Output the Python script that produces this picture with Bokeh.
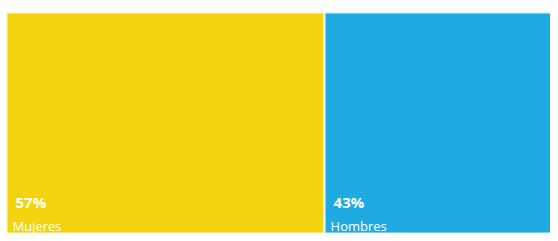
from bokeh.plotting import figure
from bokeh.models import ColumnDataSource, Range1d
from bokeh.core.properties import value
from bokeh.embed import file_html
from bokeh.resources import INLINE

categories = ["Mujeres", "Hombres"]
shares = [57, 43]
pct_labels = ["57%", "43%"]
colors = ["#F2D40E", "#1FAAE2"]

lefts, rights = [], []
acc = 0
for s in shares:
    lefts.append(acc)
    acc += s
    rights.append(acc)

src = ColumnDataSource(dict(
    left=lefts, right=rights, bottom=[0] * len(shares), top=[1] * len(shares),
    color=colors, cat=categories, pct=pct_labels,
))

W, H = 550, 233
ML, MT = 6, 12
# the treemap continues slightly past the right edge of the picture
x_end = acc * (W - ML) / (W - ML + 14)

p = figure(width=W, height=H, output_backend="svg", toolbar_location=None,
           x_range=Range1d(0, x_end), y_range=Range1d(0, 1),
           min_border_left=ML, min_border_right=0, min_border_top=MT, min_border_bottom=0)
p.axis.visible = False
p.grid.visible = False
p.outline_line_color = None
p.background_fill_color = "white"

p.quad(left="left", right="right", bottom="bottom", top="top", source=src,
       fill_color="color", line_color="white", line_width=2, line_alpha=0.8)

p.text(x="left", y="bottom", text="pct", source=src, x_offset=9, y_offset=-32,
       text_color="white", text_font=value("Open Sans"), text_font_style="bold",
       text_font_size="15px", text_baseline="alphabetic", text_align="left")
p.text(x="left", y="bottom", text="cat", source=src, x_offset=6, y_offset=-8,
       text_color="white", text_font=value("Open Sans"),
       text_font_size="13px", text_baseline="alphabetic", text_align="left")

open("out.html", "w").write(file_html(p, INLINE))
